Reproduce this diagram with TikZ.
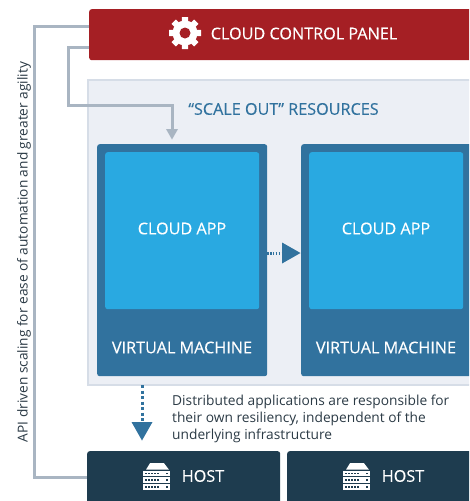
\documentclass[tikz,border=0pt]{standalone}
\usepackage{fontspec}
\setmainfont{Open Sans}
\newfontfamily\mediumfont[FakeBold=0.25]{Open Sans}
\usetikzlibrary{arrows.meta}
\definecolor{panelred}{HTML}{A51F24}
\definecolor{scalebg}{HTML}{ECEFF5}
\definecolor{scaleline}{HTML}{D6DDE7}
\definecolor{vmblue}{HTML}{31729E}
\definecolor{appblue}{HTML}{29A9E1}
\definecolor{hostblue}{HTML}{1E3C4F}
\definecolor{linkgrey}{HTML}{A9B5C2}
\definecolor{bodytext}{HTML}{2B3A45}
\tikzset{
  box/.style={rectangle, rounded corners=2.5pt, inner sep=0pt, anchor=north west},
  boxtext/.style={text=white, font=\mediumfont\fontsize{16.2}{19}\selectfont},
  link/.style={draw=linkgrey, line width=3pt},
  flow/.style={draw=vmblue, line width=3pt, dash pattern=on 3pt off 2.5pt},
  hosticon/.pic={
    \fill[white] (3,9) -- (7,2.5) -- (21,2.5) -- (26,9) -- cycle;
    \foreach \y in {10, 16.7, 23.3} {
      \fill[white] (0,\y) rectangle (27,\y+5.5);
      \foreach \x in {2,5,8,11,14} \fill[hostblue] (\x,\y+2) rectangle +(1.8,1.6);
      \fill[hostblue] (23,\y+2) rectangle +(2,1.6);
    }
  }
}
\begin{document}
\begin{tikzpicture}[x=1pt, y=-1pt]
\useasboundingbox (0,0) rectangle (469,501);
\clip (0,0) rectangle (469,501);
% nodes
\node[box, fill=scalebg, draw=scaleline, line width=2pt, rounded corners=0pt, minimum width=400pt, minimum height=305pt] (scale) at (87,79) {};
\node[box, fill=panelred, minimum width=400pt, minimum height=51pt] (panel) at (89,9) {};
\node[box, fill=vmblue, minimum width=170pt, minimum height=232pt] (vm1) at (97,144) {};
\node[box, fill=vmblue, minimum width=200pt, minimum height=232pt] (vm2) at (301,144) {};
\node[box, fill=appblue, minimum width=154pt, minimum height=157pt] (app1) at (105,152) {};
\node[box, fill=appblue, minimum width=154pt, minimum height=157pt] (app2) at (309,152) {};
\node[box, fill=hostblue, minimum width=193pt, minimum height=60pt] (host1) at (87,451) {};
\node[box, fill=hostblue, minimum width=250pt, minimum height=60pt] (host2) at (287,451) {};
% labels
\node[boxtext] (paneltext) at (304,33.5) {CLOUD CONTROL PANEL};
\node[boxtext, text=vmblue] (scaletext) at (283.5,109) {“SCALE OUT” RESOURCES};
\node[boxtext] (apptext1) at (182,228.5) {CLOUD APP};
\node[boxtext] (apptext2) at (386,228.5) {CLOUD APP};
\node[boxtext] (vmtext1) at (182,347.5) {VIRTUAL MACHINE};
\node[boxtext] (vmtext2) at (386,347.5) {VIRTUAL MACHINE};
\node[boxtext] (hosttext1) at (203,476) {HOST};
\node[boxtext] (hosttext2) at (403,476) {HOST};
\node[text=bodytext, align=left, anchor=north west, inner sep=0pt, font=\fontsize{13.75}{17}\selectfont] (note) at (172,395) {Distributed applications are responsible for\\their own resiliency, independent of the\\underlying infrastructure};
\node[text=bodytext, rotate=90, font=\fontsize{13.7}{16}\selectfont] (apitext) at (24,252) {API driven scaling for ease of automation and greater agility};
% gear
\node[circle, inner sep=0pt, minimum size=1pt] (gear) at (185,33) {};
\foreach \a in {0,45,...,315}
  \fill[white, shift={(gear)}, rotate=\a] (-3.6,0) -- (-3,-16) -- (3,-16) -- (3.6,0) -- cycle;
\fill[white] (gear) circle (12.5pt);
\fill[panelred] (gear) circle (5.5pt);
% icons
\pic at (143,460.7) {hosticon};
\pic at (343,460.7) {hosticon};
% arrows
\coordinate (a1) at (89,26);
\coordinate (a2) at (87,477);
\coordinate (b1) at (89,47);
\coordinate (b2) at (172,129);
\draw[link] (a1) -- (34,26) -- (34,477) -- (a2);
\draw[link] (b1) -- (68,47) -- (68,105.5) -- (172,105.5) -- (b2);
\fill[linkgrey] (166,129) -- (178,129) -- (172,139.5) -- cycle;
\coordinate (c1) at (142,385);
\coordinate (c2) at (142,422);
\coordinate (d1) at (267,253);
\coordinate (d2) at (282,253);
\draw[flow] (c1) -- (c2);
\draw[flow, dash pattern=on 1.6pt off 1.3pt] (d1) -- (d2);
\fill[vmblue] (131.5,422) -- (152.5,422) -- (142,440.5) -- cycle;
\fill[vmblue] (282,242.5) -- (300.5,253) -- (282,263.5) -- cycle;
\end{tikzpicture}
\end{document}
